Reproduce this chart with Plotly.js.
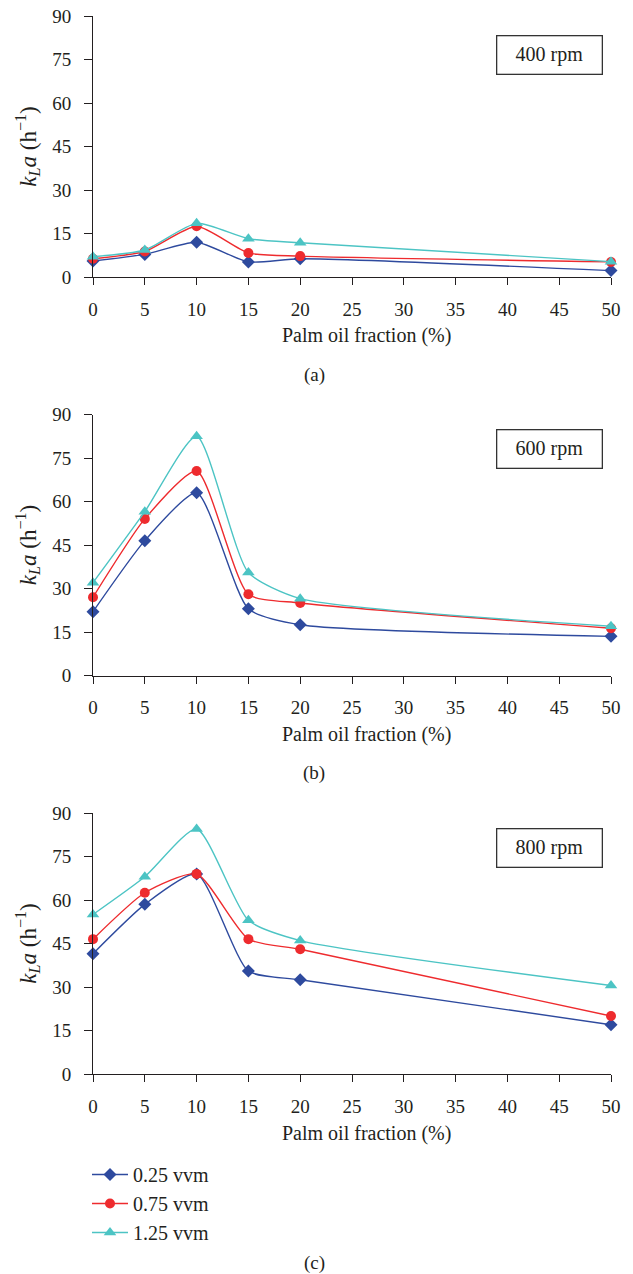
<!DOCTYPE html>
<html>
<head>
<meta charset="utf-8">
<script src="https://cdn.plot.ly/plotly-3.0.1.min.js"></script>
<style>
html,body{margin:0;padding:0;background:#fff;}
#chart{width:633px;height:1274px;}
</style>
</head>
<body>
<div id="chart"></div>
<script>
// ---- data ----
const fraction = [0, 5, 10, 15, 20, 50];
const seriesNames = ["0.25 vvm", "0.75 vvm", "1.25 vvm"];
const panelLabels = ["(a)", "(b)", "(c)"];
const speedLabels = ["400 rpm", "600 rpm", "800 rpm"];
const xTitle = "Palm oil fraction (%)";

// 400 rpm
const rpm400_025 = [5.5, 7.8, 12.0, 5.2, 6.3, 2.2];
const rpm400_075 = [6.3, 8.8, 17.5, 8.3, 7.2, 5.2];
const rpm400_125 = [7.0, 9.3, 18.5, 13.2, 11.8, 5.3];
// 600 rpm
const rpm600_025 = [22.0, 46.5, 63.0, 23.0, 17.5, 13.5];
const rpm600_075 = [27.0, 54.0, 70.5, 28.0, 25.0, 16.3];
const rpm600_125 = [32.0, 56.5, 82.5, 35.5, 26.5, 17.0];
// 800 rpm
const rpm800_025 = [41.5, 58.5, 69.0, 35.5, 32.5, 17.0];
const rpm800_075 = [46.5, 62.5, 69.0, 46.5, 43.0, 20.0];
const rpm800_125 = [55.0, 68.0, 84.5, 53.0, 46.0, 30.5];

const xTicks = [0, 5, 10, 15, 20, 25, 30, 35, 40, 45, 50];
const yTicks = [0, 15, 30, 45, 60, 75, 90];

// ---- styles ----
const colors = ["#2e4a9e", "#ee2b2e", "#4cc4c4"];
const symbols = ["diamond", "circle", "triangle-up"];
const msize = [10, 10, 11];
const FONT = "Liberation Serif, Times New Roman, serif";
const INK = "#231f20";
const W = 633, H = 1274;

const panels = [
  [rpm400_025, rpm400_075, rpm400_125],
  [rpm600_025, rpm600_075, rpm600_125],
  [rpm800_025, rpm800_075, rpm800_125]
];

const tops = [16, 414.5, 813];
const plotH = 261;
const xL = 93, xR = 611;
const boxCY = [55, 449.5, 848];

const traces = [];
panels.forEach((p, pi) => {
  p.forEach((vals, si) => {
    traces.push({
      x: fraction, y: vals,
      xaxis: pi === 0 ? "x" : "x" + (pi + 1),
      yaxis: pi === 0 ? "y" : "y" + (pi + 1),
      type: "scatter", mode: "lines+markers",
      name: seriesNames[si],
      showlegend: pi === 2,
      cliponaxis: false,
      line: {color: colors[si], width: 1.4, shape: "spline", smoothing: 0.6},
      marker: {color: colors[si], symbol: symbols[si], size: msize[si], line: {width: 0}}
    });
  });
});

const layout = {
  width: W, height: H,
  margin: {l: 0, r: 0, t: 0, b: 0},
  paper_bgcolor: "#fff", plot_bgcolor: "#fff",
  font: {family: FONT, color: INK, size: 19},
  showlegend: true,
  legend: {
    x: 87 / W, y: 1 - 1155 / H, xanchor: "left", yanchor: "top",
    font: {family: FONT, size: 20, color: INK},
    itemwidth: 36, tracegroupgap: 0, bgcolor: "rgba(0,0,0,0)"
  },
  annotations: [],
  shapes: []
};

const ytitle = "<i>k</i><sub><i>L</i></sub><i>a</i> (h<sup>\u22121</sup>)";

for (let i = 0; i < 3; i++) {
  const sfx = i === 0 ? "" : String(i + 1);
  const top = tops[i], bot = tops[i] + plotH;
  layout["xaxis" + sfx] = {
    domain: [xL / W, xR / W],
    anchor: "y" + sfx,
    range: [0, 50],
    tickvals: xTicks, ticktext: xTicks.map(String),
    ticks: "outside", ticklen: 7, tickwidth: 1, tickcolor: INK,
    ticklabelstandoff: 8,
    showline: true, linecolor: INK, linewidth: 1,
    showgrid: false, zeroline: false,
    tickfont: {family: FONT, size: 19, color: INK}
  };
  layout["yaxis" + sfx] = {
    domain: [1 - bot / H, 1 - top / H],
    anchor: "x" + sfx,
    range: [0, 90],
    tickvals: yTicks, ticktext: yTicks.map(String),
    ticks: "outside", ticklen: 8, tickwidth: 1, tickcolor: INK,
    ticklabelstandoff: 9,
    showline: true, linecolor: INK, linewidth: 1,
    showgrid: false, zeroline: false,
    tickfont: {family: FONT, size: 19, color: INK},
    title: {text: ytitle, font: {family: FONT, size: 23, color: INK}, standoff: 9}
  };
  // x-axis title
  layout.annotations.push({
    xref: "paper", yref: "paper",
    x: 366 / W, y: 1 - (bot + 59) / H,
    xanchor: "center", yanchor: "middle",
    text: xTitle, showarrow: false,
    font: {family: FONT, size: 20, color: INK}
  });
  // rpm box
  layout.annotations.push({
    xref: "paper", yref: "paper",
    x: 549.5 / W, y: 1 - boxCY[i] / H,
    xanchor: "center", yanchor: "middle",
    text: speedLabels[i], showarrow: false,
    font: {family: FONT, size: 20, color: INK},
    width: 100, height: 33,
    bordercolor: "#333", borderwidth: 1.3, borderpad: 2, bgcolor: "#fff"
  });
}

const labelY = [375, 773.5, 1263];
for (let i = 0; i < 3; i++) {
  layout.annotations.push({
    xref: "paper", yref: "paper",
    x: 314 / W, y: 1 - labelY[i] / H,
    xanchor: "center", yanchor: "middle",
    text: panelLabels[i], showarrow: false,
    font: {family: FONT, size: 19, color: INK}
  });
}

Plotly.newPlot("chart", traces, layout, {staticPlot: true, displayModeBar: false});
</script>
</body>
</html>
